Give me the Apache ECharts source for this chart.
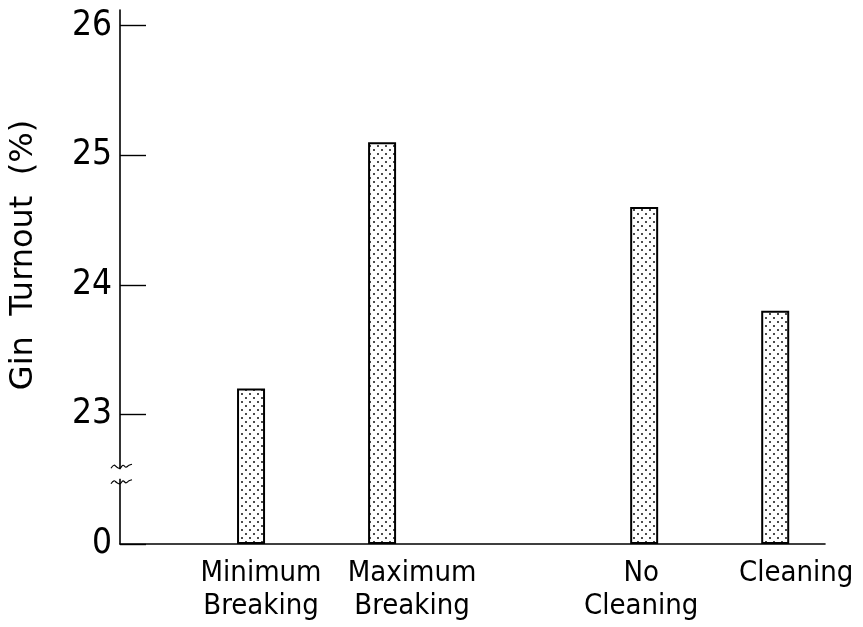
<!DOCTYPE html>
<html>
<head>
<meta charset="utf-8">
<script src="https://cdn.jsdelivr.net/npm/echarts@6/dist/echarts.min.js"></script>
<style>
  html, body { margin: 0; padding: 0; background: #fff; }
  #chart { width: 863px; height: 627px; }
</style>
</head>
<body>
<div id="chart"></div>
<script>
// Treatment groups along the bottom; the empty entry separates the two groups.
const categories = ['Minimum\nBreaking', 'Maximum\nBreaking', '', 'No\nCleaning', 'Cleaning'];
// Gin turnout in percent for each treatment (null = spacer).
const turnout = [23.2, 25.1, null, 24.6, 23.8];
// Tick values on the broken y axis; the lowest one is shown as 0.
const yTicks = [22, 23, 24, 25, 26];
const yTickLabels = ['0', '23', '24', '25', '26'];

const FONT = '"DejaVu Sans Condensed", "DejaVu Sans", sans-serif';
const Y_BASE = yTicks[0];

// Hand-lettered captions sit a little off the bar centres; horizontal nudge per slot.
const captionNudge = [10, 30, 0, -3, 21];

// Stippled fill used for the bars.
function stipple() {
  const c = document.createElement('canvas');
  c.width = 8; c.height = 8;
  const g = c.getContext('2d');
  g.fillStyle = '#fff';
  g.fillRect(0, 0, 8, 8);
  g.fillStyle = '#111';
  g.beginPath(); g.arc(2, 2, 1.0, 0, Math.PI * 2); g.fill();
  g.beginPath(); g.arc(6, 6, 1.0, 0, Math.PI * 2); g.fill();
  return c;
}

const points = [];
const captions = [];
const captionShift = [];
turnout.forEach((v, i) => {
  if (v == null) return;
  points.push([i + 1, v]);
  captions.push({ value: [i + 1, Y_BASE], name: categories[i] });
  captionShift.push(captionNudge[i]);
});

const chart = echarts.init(document.getElementById('chart'), null, { renderer: 'canvas' });

chart.setOption({
  animation: false,
  backgroundColor: '#fff',
  grid: { left: 120, right: 38, top: 10, bottom: 83, containLabel: false },
  xAxis: {
    type: 'value',
    min: 0,
    max: 5.38,
    splitLine: { show: false },
    axisLine: { show: true, onZero: false, lineStyle: { color: '#000', width: 1.6 } },
    axisTick: { show: false },
    axisLabel: { show: false }
  },
  yAxis: {
    type: 'value',
    min: Y_BASE,
    max: 26.12,
    startValue: Y_BASE,
    splitLine: { show: false },
    axisLine: { show: true, onZero: false, lineStyle: { color: '#000', width: 1.6 } },
    axisTick: {
      show: true, inside: true, length: 26,
      customValues: yTicks,
      lineStyle: { color: '#000', width: 1.4 }
    },
    axisLabel: {
      customValues: yTicks,
      showMinLabel: true,
      showMaxLabel: true,
      margin: 8,
      fontFamily: FONT,
      fontSize: 35,
      color: '#000',
      formatter: v => yTickLabels[yTicks.indexOf(Math.round(v))]
    },
    name: 'Gin  Turnout  (%)',
    nameLocation: 'middle',
    nameGap: 80,
    nameTextStyle: {
      fontFamily: '"DejaVu Sans", sans-serif',
      fontSize: 32,
      color: '#000',
      padding: [0, 0, 0, 44]
    }
  },
  series: [{
    type: 'bar',
    data: points,
    barWidth: 28,
    clip: true,
    itemStyle: {
      color: { image: stipple(), repeat: 'repeat' },
      borderColor: '#000',
      borderWidth: 2
    }
  }, {
    // Category captions hung under the axis at each bar's slot.
    type: 'scatter',
    data: captions,
    symbolSize: 0,
    silent: true,
    clip: false,
    itemStyle: { opacity: 1, color: '#000' },
    labelLayout: p => ({ dx: captionShift[p.dataIndex], hideOverlap: false }),
    label: {
      show: true,
      position: 'bottom',
      distance: 13,
      formatter: p => p.name,
      fontFamily: FONT,
      fontSize: 29,
      lineHeight: 33,
      color: '#000',
      align: 'center'
    }
  }]
});

// Axis-break marks between the 0 and 23 ticks, placed through the axis scale.
function drawBreak() {
  const x0 = chart.convertToPixel({ xAxisIndex: 0 }, 0);
  const yHi = chart.convertToPixel({ yAxisIndex: 0 }, 22.6);
  const yLo = chart.convertToPixel({ yAxisIndex: 0 }, 22.48);
  const wave = (y) => ({
    type: 'polyline',
    shape: {
      points: [[x0 - 9, y + 2], [x0 - 6, y - 1], [x0 - 3, y + 1], [x0, y + 2],
               [x0 + 3, y - 1], [x0 + 6, y + 1], [x0 + 9, y - 1], [x0 + 12, y - 2]],
      smooth: 0.4
    },
    style: { stroke: '#000', lineWidth: 1.2, fill: null },
    z: 20
  });
  chart.setOption({
    graphic: [
      { type: 'rect', shape: { x: x0 - 3, y: yHi + 3, width: 6, height: yLo - yHi - 6 },
        style: { fill: '#fff' }, z: 19 },
      wave(yHi), wave(yLo)
    ]
  });
}
drawBreak();
</script>
</body>
</html>
